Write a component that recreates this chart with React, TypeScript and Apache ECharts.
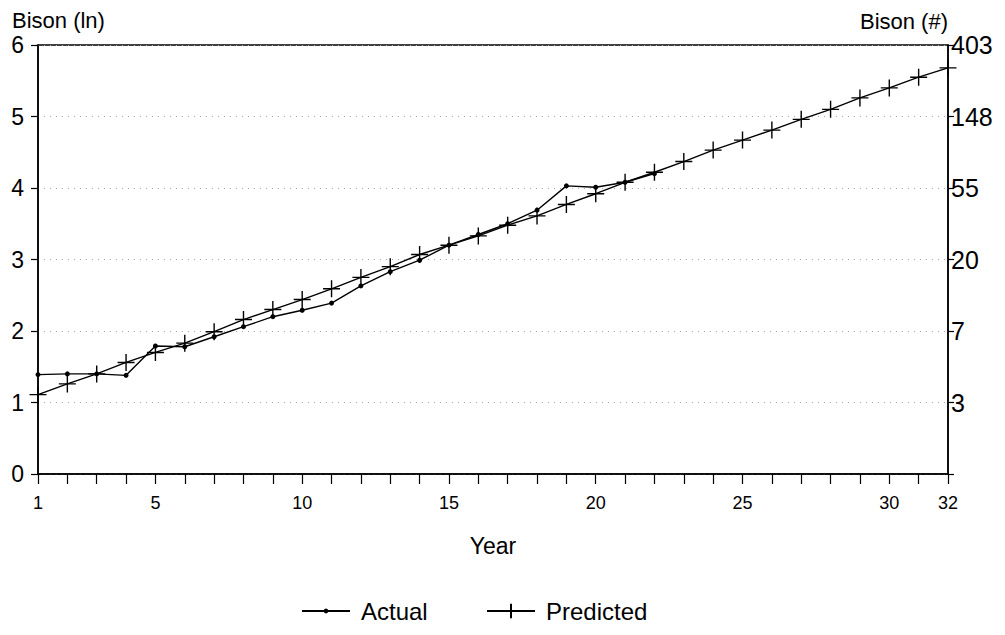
import React, { useEffect, useRef } from "react";
import * as echarts from "echarts";

const years = [1, 2, 3, 4, 5, 6, 7, 8, 9, 10, 11, 12, 13, 14, 15, 16, 17, 18, 19, 20, 21, 22, 23, 24, 25, 26, 27, 28, 29, 30, 31, 32];
const actualLn = [1.39, 1.40, 1.40, 1.38, 1.79, 1.78, 1.92, 2.06, 2.20, 2.29, 2.39, 2.63, 2.83, 2.99, 3.20, 3.35, 3.50, 3.69, 4.03, 4.01, 4.08, 4.20];
const predictedLn = [1.11, 1.26, 1.40, 1.56, 1.70, 1.83, 1.99, 2.16, 2.30, 2.44, 2.59, 2.75, 2.90, 3.07, 3.20, 3.33, 3.48, 3.61, 3.77, 3.92, 4.08, 4.22, 4.37, 4.53, 4.67, 4.81, 4.96, 5.10, 5.26, 5.40, 5.55, 5.68];
const xLabelYears = [1, 5, 10, 15, 20, 25, 30, 32];
const rightTickLabels = ["", "3", "7", "20", "55", "148", "403"];

const FONT = "Liberation Sans";
const CROSS = "path://M8,0 L8,16 M0,8 L16,8";

export default function App() {
  const ref = useRef<HTMLDivElement>(null);
  useEffect(() => {
    if (!ref.current) return;
    const chart = echarts.init(ref.current, null, { renderer: "svg" });
    const actualData = actualLn.map((v, i) => [years[i], v]);
    const predictedData = predictedLn.map((v, i) => [years[i], v]);
    const legendText = { fontFamily: FONT, fontSize: 24, color: "#000", padding: [0, 0, 0, 6] };
    chart.setOption({
      animation: false,
      backgroundColor: "#fff",
      textStyle: { fontFamily: FONT, color: "#000" },
      grid: {
        left: 38,
        right: 57,
        top: 45,
        bottom: 161,
        show: true,
        borderColor: "#000",
        borderWidth: 1.5,
        backgroundColor: "transparent",
      },
      legend: [
        {
          left: 296,
          top: 594,
          itemWidth: 48,
          itemHeight: 6,
          textStyle: legendText,
          data: ["Actual"],
        },
        {
          left: 481,
          top: 594,
          itemWidth: 48,
          itemHeight: 18,
          textStyle: legendText,
          data: ["Predicted"],
        },
      ],
      xAxis: {
        type: "value",
        min: 1,
        max: 32,
        interval: 1,
        name: "Year",
        nameLocation: "middle",
        nameGap: 60,
        nameTextStyle: { fontFamily: FONT, fontSize: 23, color: "#000" },
        axisLine: { show: true, lineStyle: { color: "#000", width: 1.5 } },
        axisTick: { show: true, length: 10, lineStyle: { color: "#000", width: 1.2 } },
        axisLabel: {
          margin: 20,
          fontFamily: FONT,
          fontSize: 18,
          color: "#000",
          formatter: (v: number) => (xLabelYears.includes(v) ? String(v) : ""),
        },
        splitLine: { show: false },
      },
      yAxis: [
        {
          type: "value",
          min: 0,
          max: 6,
          interval: 1,
          position: "left",
          name: "Bison (ln)",
          nameLocation: "end",
          nameGap: 14,
          nameTextStyle: { fontFamily: FONT, fontSize: 22, color: "#000", align: "left", padding: [0, 0, 0, -26] },
          axisLine: { show: true, lineStyle: { color: "#000", width: 1.5 } },
          axisTick: { show: true, length: 7, lineStyle: { color: "#000", width: 1.2 } },
          axisLabel: { margin: 14, fontFamily: FONT, fontSize: 23, color: "#000" },
          splitLine: { show: true, lineStyle: { color: "#a8a8a8", type: [1, 5], width: 1 } },
        },
        {
          type: "value",
          min: 0,
          max: 6,
          interval: 1,
          position: "right",
          name: "Bison (#)",
          nameLocation: "end",
          nameGap: 6,
          nameTextStyle: { fontFamily: FONT, fontSize: 22, color: "#000", align: "right" },
          axisLine: { show: true, lineStyle: { color: "#000", width: 1.5 } },
          axisTick: { show: true, length: 6, lineStyle: { color: "#000", width: 1.2 } },
          axisLabel: {
            margin: 3,
            fontFamily: FONT,
            fontSize: 25,
            color: "#000",
            formatter: (v: number) => rightTickLabels[Math.round(v)] ?? "",
          },
          splitLine: { show: false },
        },
      ],
      series: [
        {
          name: "Actual",
          type: "line",
          data: actualData,
          yAxisIndex: 0,
          symbol: "circle",
          symbolSize: 5,
          lineStyle: { color: "#000", width: 1.4 },
          itemStyle: { color: "#000" },
        },
        {
          name: "Predicted",
          type: "line",
          data: predictedData,
          yAxisIndex: 0,
          symbol: CROSS,
          symbolSize: 17,
          lineStyle: { color: "#000", width: 1.4 },
          itemStyle: { color: "none", borderColor: "#000", borderWidth: 1.4 },
        },
      ],
    });
    return () => chart.dispose();
  }, []);
  return (
    <div
      ref={ref}
      style={{ position: "fixed", left: 0, top: 0, width: 1005, height: 635, background: "#fff" }}
    />
  );
}
